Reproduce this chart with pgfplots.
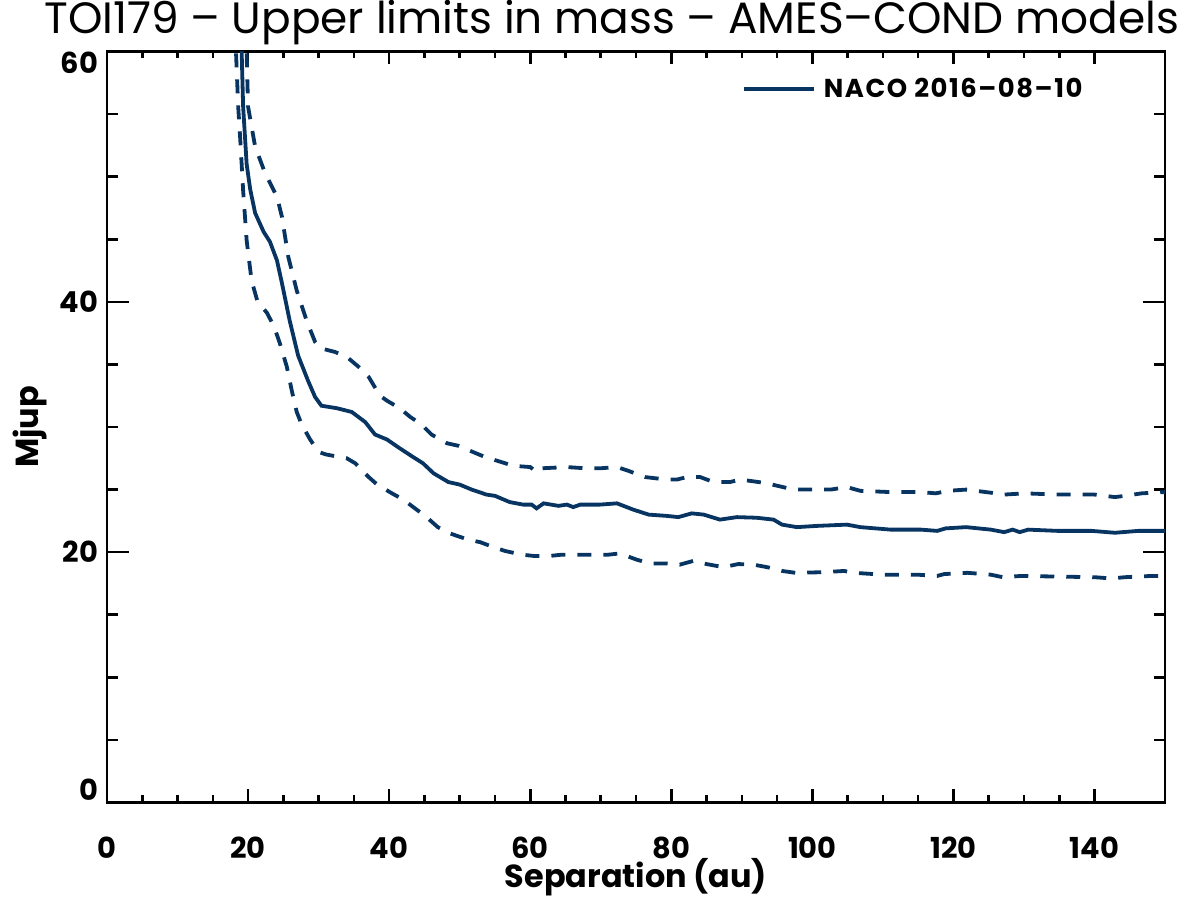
\documentclass[border=0pt]{standalone}
\usepackage{fontspec}
\setmainfont{Poppins}
\usepackage{pgfplots}
\pgfplotsset{compat=1.18}
\definecolor{naco}{RGB}{8,52,98}

\begin{document}
\begin{tikzpicture}
\path[use as bounding box] (-53.5bp,-49.25bp) rectangle (546.5bp,401.25bp);
\begin{axis}[
    at={(0,0)}, anchor=origin,
    scale only axis,
    width=529bp, height=375.5bp,
    xmin=0, xmax=150, ymin=0, ymax=60,
    xtick={0,20,...,140}, ytick={0,20,40,60},
    minor x tick num=3, minor y tick num=3,
    axis line style={line width=1.3bp},
    every tick/.style={black, line width=1.3bp},
    x tick style={/pgfplots/major tick length=6.5bp,/pgfplots/minor tick length=3.5bp},
    y tick style={/pgfplots/major tick length=11bp,/pgfplots/minor tick length=5.5bp},
    /pgf/number format/assume math mode=true,
    ticklabel style={font=\fontsize{14.5}{17}\selectfont\bfseries},
    xticklabel style={anchor=base, yshift=-28bp},
    yticklabel style={anchor=base east, xshift=-1bp, yshift={-5.2+6*(\tick<10)-6*(\tick>50)}},
    title={TOI179 – Upper limits in mass – AMES–COND models},
    title style={at={(0.477,1)}, anchor=base, yshift=3bp, inner sep=0pt,
        font=\fontsize{22}{26}\selectfont},
    xlabel={Separation (au)},
    xlabel style={at={(0.5,0)}, anchor=base, yshift=-42.5bp, font=\fontsize{16}{19}\selectfont\bfseries},
    ylabel={Mjup},
    ylabel style={at={(-0.0728,0.5)}, anchor=center, font=\fontsize{16}{19}\selectfont\bfseries},
    clip=true,
    legend style={draw=none, fill=none, at={(0.5999,0.95)}, anchor=west,
        font=\fontsize{13}{15}\selectfont\bfseries\addfontfeatures{LetterSpace=6}, inner sep=0pt,
        nodes={inner xsep=4bp}},
    legend cell align=left,
    legend image code/.code={\draw[#1] (0bp,0bp) -- (35bp,0bp);},
]
% solid: detection limit
\addplot[naco, line width=1.9bp] coordinates {
(18.9,64)(19.1,59.8)(19.3,55.6)(19.8,51.0)(20.3,49.0)(21.0,47.1)(22.2,45.6)(23.1,44.8)
(24.1,43.3)(24.8,41.5)(25.9,38.5)(27.1,35.7)(28.5,33.7)(29.5,32.4)(30.4,31.7)(32.6,31.5)
(34.7,31.2)(36.6,30.4)(38.0,29.4)(39.7,29.0)(41.5,28.3)(43.4,27.6)(44.8,27.1)(46.3,26.3)
(48.4,25.6)(50.0,25.4)(51.7,25.0)(53.8,24.6)(55.0,24.5)(57.1,24.0)(59.0,23.8)(60.2,23.8)
(60.9,23.5)(61.9,23.9)(64.0,23.7)(65.2,23.8)(66.1,23.6)(67.1,23.8)(69.9,23.8)(72.3,23.9)
(74.6,23.4)(76.8,23.0)(79.3,22.9)(81.0,22.8)(82.9,23.1)(84.6,23.0)(86.9,22.6)(89.3,22.8)
(92.1,22.75)(94.5,22.6)(95.7,22.2)(97.8,22.0)(100.7,22.1)(104.9,22.2)(106.8,22.0)(111.1,21.8)
(115.4,21.8)(117.7,21.7)(118.9,21.9)(121.8,22.0)(125.3,21.8)(127.2,21.6)(128.4,21.8)(129.4,21.6)
(130.6,21.8)(134.8,21.7)(139.6,21.7)(142.9,21.55)(146.2,21.7)(150,21.7)
};
\addlegendentry{NACO 2016–08–10}
% dashed: upper envelope
\addplot[naco, line width=1.9bp, dash pattern=on 7bp off 6bp, forget plot] coordinates {
(19.6,64)(19.8,59.8)(20.0,55.6)(21.0,52.4)(22.4,50.3)(24.1,48.4)(24.8,46.8)(25.7,43.6)
(26.9,40.9)(28.3,38.5)(29.5,36.8)(30.2,36.3)(32.3,36.0)(34.0,35.6)(35.9,34.7)(37.1,34.0)
(38.7,32.5)(39.7,32.1)(41.5,31.5)(43.0,30.8)(44.6,30.2)(46.0,29.4)(48.2,28.7)(49.8,28.5)
(51.9,28.0)(53.6,27.6)(55.9,27.2)(57.6,26.9)(60.0,26.8)(60.9,26.4)(61.6,26.7)(65.2,26.8)
(67.8,26.7)(69.9,26.7)(72.3,26.8)(73.9,26.5)(76.3,26.0)(79.3,25.8)(80.8,25.8)(82.2,26.0)
(84.1,26.0)(86.0,25.6)(88.3,25.6)(89.8,25.8)(92.4,25.6)(94.3,25.4)(96.6,25.1)(98.3,25.0)
(102.6,25.0)(104.9,25.2)(106.8,24.9)(111.1,24.8)(115.4,24.8)(117.5,24.7)(119.2,24.9)(121.8,25.0)
(125.3,24.75)(127.2,24.6)(130.1,24.7)(134.8,24.6)(140.0,24.6)(142.9,24.4)(144.3,24.5)(146.7,24.7)
(150,24.8)
};
% dashed: lower envelope
\addplot[naco, line width=1.9bp, dash pattern=on 7bp off 6bp, forget plot] coordinates {
(18.1,64)(18.3,59.8)(18.6,55.6)(18.9,52.9)(19.3,48.9)(19.8,44.9)(20.5,41.7)(21.3,40.1)
(22.7,39.1)(23.7,38.0)(24.5,36.7)(25.5,34.8)(26.2,32.9)(26.9,31.2)(27.6,30.2)(28.8,29.0)
(30.0,28.0)(31.1,27.8)(34.0,27.5)(35.2,27.1)(37.1,26.0)(38.3,25.4)(40.4,24.7)(42.0,24.2)
(43.9,23.4)(45.3,22.8)(46.9,22.0)(48.6,21.5)(51.2,21.0)(52.9,20.8)(54.8,20.4)(56.4,20.1)
(58.8,19.8)(60.5,19.7)(62.8,19.7)(64.5,19.8)(67.1,19.8)(68.7,19.8)(71.1,19.8)(72.7,19.9)
(75.1,19.4)(77.0,19.1)(79.4,19.1)(81.2,19.0)(83.1,19.3)(85.0,19.05)(87.4,18.8)(89.5,19.05)
(91.7,19.0)(93.6,18.8)(95.7,18.5)(97.6,18.35)(101.6,18.4)(104.5,18.5)(105.9,18.35)(110.1,18.2)
(114.9,18.2)(117.7,18.1)(118.7,18.25)(122.0,18.35)(125.3,18.2)(127.0,18.0)(129.6,18.1)(134.8,18.05)
(140.0,18.0)(142.4,17.9)(144.3,18.0)(148.1,18.1)(150,18.1)
};
\end{axis}
\end{tikzpicture}
\end{document}
